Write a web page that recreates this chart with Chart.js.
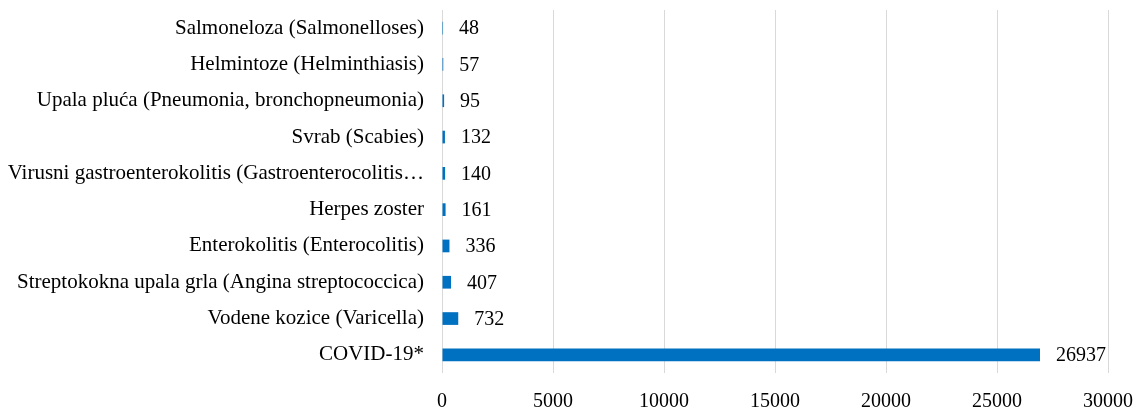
<!DOCTYPE html>
<html>
<head>
<meta charset="utf-8">
<script src="https://cdn.jsdelivr.net/npm/chart.js@4.4.0/dist/chart.umd.min.js"></script>
<style>
  html, body { margin: 0; padding: 0; background: #fff; }
  #wrap { width: 1138px; height: 407px; position: relative; }
</style>
</head>
<body>
<div id="wrap"><canvas id="graphCanvas"></canvas></div>
<script>
// categories, top to bottom
var diseases = [
    'Salmoneloza (Salmonelloses)',
    'Helmintoze (Helminthiasis)',
    'Upala pluća (Pneumonia, bronchopneumonia)',
    'Svrab (Scabies)',
    'Virusni gastroenterokolitis (Gastroenterocolitis…',
    'Herpes zoster',
    'Enterokolitis (Enterocolitis)',
    'Streptokokna upala grla (Angina streptococcica)',
    'Vodene kozice (Varicella)',
    'COVID-19*'
];
var cases = [48, 57, 95, 132, 140, 161, 336, 407, 732, 26937];
var xTicks = [0, 5000, 10000, 15000, 20000, 25000, 30000];

var serif = "'Liberation Serif', 'Times New Roman', serif";

// draws the number to the right of each bar
var valueLabels = {
    id: 'valueLabels',
    afterDatasetsDraw: function (chart) {
        var ctx = chart.ctx;
        var meta = chart.getDatasetMeta(0);
        ctx.save();
        ctx.font = '20px ' + serif;
        ctx.fillStyle = '#000';
        ctx.textAlign = 'left';
        ctx.textBaseline = 'middle';
        meta.data.forEach(function (bar, i) {
            ctx.fillText(String(chart.data.datasets[0].data[i]), bar.x + 16, bar.y + 1);
        });
        ctx.restore();
    }
};

var chartdata = {
    labels: diseases,
    datasets: [
        {
            label: 'Cases',
            backgroundColor: '#0070C0',
            borderWidth: 0,
            barPercentage: 1,
            categoryPercentage: 0.35,
            data: cases
        }
    ]
};

new Chart(document.getElementById('graphCanvas'), {
    type: 'bar',
    data: chartdata,
    plugins: [valueLabels],
    options: {
        indexAxis: 'y',
        responsive: true,
        maintainAspectRatio: false,
        animation: false,
        layout: { padding: { top: 10, right: 30, bottom: 0, left: 0 } },
        plugins: {
            legend: { display: false },
            tooltip: { enabled: false }
        },
        scales: {
            x: {
                min: 0,
                max: 30000,
                afterBuildTicks: function (scale) {
                    scale.ticks = xTicks.map(function (v) { return { value: v }; });
                },
                grid: { color: '#d9d9d9', lineWidth: 1, drawTicks: false },
                border: { display: false },
                ticks: {
                    color: '#000',
                    padding: 17,
                    maxRotation: 0,
                    font: { family: serif, size: 20 },
                    callback: function (value) { return String(value); }
                },
                afterFit: function (scale) {
                    scale.height = 34;
                    scale.paddingLeft = 0;
                    scale.paddingRight = 0;
                }
            },
            y: {
                grid: { display: false, drawTicks: false },
                border: { display: false },
                ticks: {
                    color: '#000',
                    padding: 18,
                    autoSkip: false,
                    font: { family: serif, size: 21 }
                },
                afterFit: function (scale) {
                    scale.width = 442;
                    scale.paddingTop = 0;
                    scale.paddingBottom = 0;
                }
            }
        }
    }
});
</script>
</body>
</html>
